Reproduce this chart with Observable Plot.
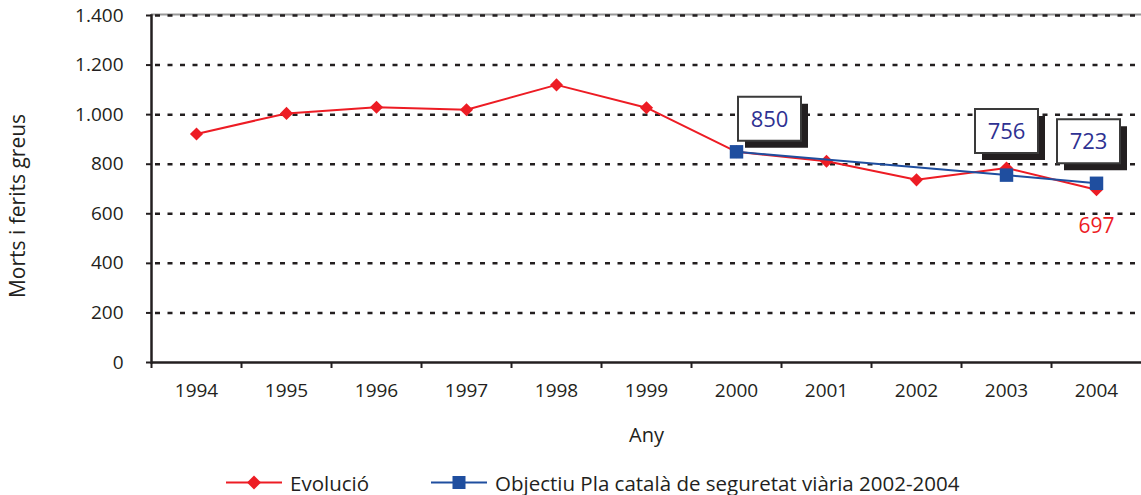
<!DOCTYPE html>
<html><head><meta charset="utf-8">
<script src="https://cdn.jsdelivr.net/npm/d3@7"></script>
<script src="https://cdn.jsdelivr.net/npm/@observablehq/plot@0.6"></script>
<style>
body{margin:0;background:#fff;font-family:"Open Sans",sans-serif;color:#231f20;}
#chart svg{display:block;}
#chart g[aria-label="y-axis tick label"], #chart g[aria-label="x-axis tick label"]{font-size:19px;}
#legend{position:relative;width:1141px;height:35px;}
#legend .item{position:absolute;top:5px;height:35px;display:flex;align-items:center;font-size:20.5px;}
#legend svg{display:block;}
</style></head><body>
<div id="chart"></div>
<div id="legend"></div>
<script>
// ---- data ----
const years = [1994, 1995, 1996, 1997, 1998, 1999, 2000, 2001, 2002, 2003, 2004];
const evolucio = [922, 1005, 1030, 1020, 1120, 1028, 850, 812, 737, 785, 697];
const objectiuYears = [2000, 2003, 2004];
const objectiuValues = [850, 756, 723];
const yTicks = [0, 200, 400, 600, 800, 1000, 1200, 1400];
const seriesNames = ["Evolució", "Objectiu Pla català de seguretat viària 2002-2004"];
const yLabel = "Morts i ferits greus";
const xLabel = "Any";
const boxedYears = [2000, 2003, 2004];
const boxedValues = [850, 756, 723];
const redLabelYear = 2004;
const redLabelValue = 697;

// ---- styles ----
const RED = "#ed1c24", BLUE = "#1f4e9f", NAVY = "#2e3192", INK = "#231f20";
const W = 1141, H = 460, ML = 151, MR = 0, MT = 15, MB = 98;
const step = (W - ML - MR) / years.length;

const evo = years.map((y, i) => ({year: y, value: evolucio[i]}));
const obj = objectiuYears.map((y, i) => ({year: y, value: objectiuValues[i]}));
const boxed = boxedYears.map((y, i) => ({year: y, value: boxedValues[i]}));

const fmt = d3.formatLocale({decimal: ",", thousands: ".", grouping: [3], currency: ["", ""]}).format(",d");

const boxSymbol = {draw(ctx) { ctx.rect(-31.5, -22, 63, 44); }};
const boxOffsets = {2000: [33, -33], 2003: [0, -44], 2004: [-8, -42]};

const boxMarks = boxed.flatMap(d => {
  const [dx, dy] = boxOffsets[d.year];
  return [
    Plot.dot([d], {x: "year", y: "value", symbol: boxSymbol, fill: INK, stroke: "none", dx: dx + 7, dy: dy + 7}),
    Plot.dot([d], {x: "year", y: "value", symbol: boxSymbol, fill: "white", stroke: "#3a3a3a", strokeWidth: 2, dx, dy}),
    Plot.text([d], {x: "year", y: "value", text: d => String(d.value), fill: NAVY, fontSize: 22, dx, dy: dy + 1})
  ];
});

const chart = Plot.plot({
  width: W, height: H,
  marginLeft: ML, marginRight: MR, marginTop: MT, marginBottom: MB,
  style: {fontFamily: "'Open Sans', sans-serif", fontSize: "19px", color: INK, background: "white"},
  x: {type: "band", domain: years, padding: 0},
  y: {domain: [0, 1400]},
  marks: [
    Plot.ruleY([1400], {stroke: "#999", strokeWidth: 2, dy: -1}),
    Plot.ruleY(yTicks.filter(t => t > 0), {stroke: INK, strokeWidth: 2.5, strokeDasharray: "5,7.5", dx: 4, insetRight: 6}),
    Plot.axisY({ticks: yTicks, tickSize: 5, tickPadding: 23, tickFormat: fmt, fontSize: 19, stroke: INK, strokeWidth: 2, label: null}),
    Plot.axisX({ticks: years, tickSize: 0, tickPadding: 21, tickFormat: d => String(d), fontSize: 19, label: null}),
    Plot.axisX({ticks: years, tickSize: 6, tickFormat: () => "", dx: -step / 2, stroke: INK, strokeWidth: 2, label: null}),
    Plot.ruleY([0], {stroke: INK, strokeWidth: 2.5}),
    Plot.frame({anchor: "left", stroke: INK, strokeWidth: 2.5}),
    Plot.text([yLabel], {frameAnchor: "left", textAnchor: "middle", rotate: -90, dx: -133, dy: 17, fontSize: 21, fill: INK}),
    Plot.text([xLabel], {frameAnchor: "bottom", dy: 79, fontSize: 20, fill: INK}),
    Plot.line(evo, {x: "year", y: "value", stroke: RED, strokeWidth: 2}),
    Plot.dot(evo, {x: "year", y: "value", symbol: "diamond2", r: 5.9, fill: RED, stroke: "none"}),
    Plot.line(obj, {x: "year", y: "value", stroke: BLUE, strokeWidth: 2}),
    Plot.dot(obj, {x: "year", y: "value", symbol: "square", r: 7.6, fill: BLUE, stroke: "none"}),
    Plot.text([{year: redLabelYear, value: redLabelValue}], {x: "year", y: "value", text: d => String(d.value), fill: RED, fontSize: 21, dy: 37}),
    ...boxMarks
  ]
});
document.getElementById("chart").appendChild(chart);

// ---- legend ----
const legend = document.getElementById("legend");
const items = [
  {name: seriesNames[0], color: RED, sym: "diamond", left: 226},
  {name: seriesNames[1], color: BLUE, sym: "square", left: 431}
];
for (const it of items) {
  const div = document.createElement("div");
  div.className = "item";
  div.style.left = it.left + "px";
  const shape = it.sym === "diamond"
    ? `<path d="M28,0.5L35,7.5L28,14.5L21,7.5Z" fill="${it.color}"/>`
    : `<rect x="21.5" y="1" width="13" height="13" fill="${it.color}"/>`;
  div.innerHTML = `<svg width="56" height="15" viewBox="0 0 56 15"><line x1="0" x2="56" y1="7.5" y2="7.5" stroke="${it.color}" stroke-width="2"/>${shape}</svg><span style="margin-left:8px">${it.name}</span>`;
  legend.appendChild(div);
}
</script>
</body></html>
